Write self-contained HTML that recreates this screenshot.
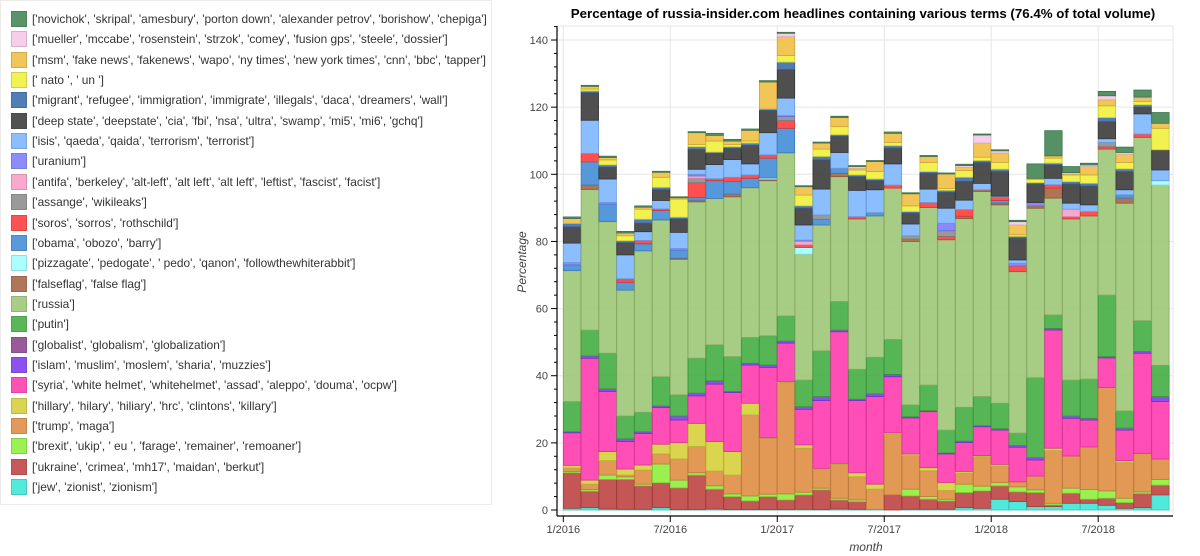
<!DOCTYPE html>
<html><head><meta charset="utf-8">
<style>
body{margin:0;width:1200px;height:556px;background:#fff;overflow:hidden;font-family:"Liberation Sans",sans-serif;}
#legend{position:absolute;left:0;top:0;width:492px;height:505px;border:1px solid #ebebeb;box-sizing:border-box;}
.le{position:absolute;left:10px;height:16px;font-size:11.9px;color:#333;white-space:nowrap;line-height:16px;}
.sw{position:absolute;left:0;top:0;width:14px;height:14px;border:1px solid;}
.lt{position:absolute;left:21px;top:0;}
svg{position:absolute;left:0;top:0;}
</style></head><body>
<div id="legend"></div>
<svg id="chart" width="1200" height="556"></svg>
<script>
const months = ["1/2016","2/2016","3/2016","4/2016","5/2016","6/2016","7/2016","8/2016","9/2016","10/2016","11/2016","12/2016","1/2017","2/2017","3/2017","4/2017","5/2017","6/2017","7/2017","8/2017","9/2017","10/2017","11/2017","12/2017","1/2018","2/2018","3/2018","4/2018","5/2018","6/2018","7/2018","8/2018","9/2018","10/2018"];
const xTickLabels = ["1/2016","7/2016","1/2017","7/2017","1/2018","7/2018"];
const yTicks = [0,20,40,60,80,100,120,140];
const seriesNames = ["jew","ukraine","brexit","trump","hillary","syria","islam","globalist","putin","russia","falseflag","pizzagate","obama","soros","assange","antifa","uranium","isis","deepstate","migrant","nato","msm","mueller","novichok"];
const labels = ["['jew', 'zionist', 'zionism']","['ukraine', 'crimea', 'mh17', 'maidan', 'berkut']","['brexit', 'ukip', ' eu ', 'farage', 'remainer', 'remoaner']","['trump', 'maga']","['hillary', 'hilary', 'hiliary', 'hrc', 'clintons', 'killary']","['syria', 'white helmet', 'whitehelmet', 'assad', 'aleppo', 'douma', 'ocpw']","['islam', 'muslim', 'moslem', 'sharia', 'muzzies']","['globalist', 'globalism', 'globalization']","['putin']","['russia']","['falseflag', 'false flag']","['pizzagate', 'pedogate', ' pedo', 'qanon', 'followthewhiterabbit']","['obama', 'obozo', 'barry']","['soros', 'sorros', 'rothschild']","['assange', 'wikileaks']","['antifa', 'berkeley', 'alt-left', 'alt left', 'alt left', 'leftist', 'fascist', 'facist']","['uranium']","['isis', 'qaeda', 'qaida', 'terrorism', 'terrorist']","['deep state', 'deepstate', 'cia', 'fbi', 'nsa', 'ultra', 'swamp', 'mi5', 'mi6', 'gchq']","['migrant', 'refugee', 'immigration', 'immigrate', 'illegals', 'daca', 'dreamers', 'wall']","[' nato ', ' un ']","['msm', 'fake news', 'fakenews', 'wapo', 'ny times', 'new york times', 'cnn', 'bbc', 'tapper']","['mueller', 'mccabe', 'rosenstein', 'strzok', 'comey', 'fusion gps', 'steele', 'dossier']","['novichok', 'skripal', 'amesbury', 'porton down', 'alexander petrov', 'borishow', 'chepiga']"];
const colors = ["#40e8d8","#c04848","#90f040","#e09048","#d8d040","#ff40b0","#8040f0","#904890","#48b048","#a0c878","#a86848","#a0ffff","#4890d8","#ff4040","#909090","#f8a0c8","#8080ff","#80b8ff","#404040","#4070b0","#f0f040","#f0c048","#f8c8e8","#488858"];
const jew =      [.5,.7,.3,.2,.2,.7,.1,.1,.3,.1,.1,.1,.1,.2,.1,.3,.2,.2,0,.2,.2,.2,.7,.5,3.2,2.5,1.0,1.0,2.0,2.0,1.4,.5,.7,4.5];
const ukraine =  [10.6,4.9,8.8,8.9,7.0,7.4,6.5,10.3,5.9,3.9,2.6,3.9,2.9,4.3,5.9,2.7,2.3,0,4.5,4.0,3.0,2.5,4.5,5.2,4.0,2.9,4.2,.5,3.0,1.2,2.1,1.7,4.2,2.9];
const brexit =   [.4,.5,1.3,.8,.5,5.6,2.3,.7,1.0,.8,1.5,.7,1.8,.8,.5,.5,.5,0,0,2.0,.8,.5,2.5,1.4,1.0,1.5,.8,.5,1.5,2.9,2.2,1.3,.5,1.7];
const trump =    [1.0,1.6,4.3,.5,4.2,3.0,6.3,7.8,4.4,5.6,24.1,16.6,33.1,13.1,5.6,10.1,6.9,6.0,18.1,10.0,7.7,2.6,3.3,8.8,4.9,1.5,4.1,15.7,9.6,12.7,30.8,10.6,11.4,6.1];
const hillary =  [.8,1.2,2.7,1.8,1.5,2.9,4.9,6.9,8.8,7.0,3.5,.2,.3,1.0,.3,.3,1.2,1.5,.4,.5,.9,2.4,.5,.3,.5,0,0,.7,0,0,0,.6,0,0];
const syria =    [9.7,36.3,17.9,8.2,9.4,10.9,6.7,8.2,17.1,17.6,11.4,21.0,11.5,10.6,20.2,39.2,21.5,26.1,16.7,10.7,16.7,8.5,8.6,8.6,10.2,10.3,4.8,35.2,11.2,8.0,8.8,9.1,29.9,17.1];
const islam =    [.3,.7,.8,.8,.5,.5,1.2,.8,1.0,.3,.5,.7,.6,.8,1.2,.5,.4,.8,.7,.4,.3,.3,.4,.3,.4,.5,.7,.5,.7,.5,.4,.6,.5,1.5];
const globalist =[0,0,0,0,0,0,0,0,0,0,0,0,0,0,0,0,0,0,0,0,0,0,0,0,0,0,0,0,0,0,0,0,0,0];
const putin =    [9.0,7.7,10.6,6.8,5.8,8.7,6.3,10.4,10.7,10.4,7.7,8.7,7.5,7.9,13.6,8.5,8.9,10.9,10.4,3.5,7.6,6.8,10.1,8.7,7.6,3.7,23.8,4.0,10.7,11.7,18.3,5.1,9.2,9.3];
const russia =   [39.0,41.9,39.2,37.5,48.1,46.7,40.4,46.6,43.6,47.6,44.6,46.2,48.6,37.5,37.5,37.2,44.8,42.1,45.1,48.7,52.9,56.7,56.2,61.1,59.1,48.1,50.5,34.8,48.0,48.6,43.5,61.9,54.6,53.7];
const falseflag =[0,1.3,0,0,0,0,.3,.5,0,.8,0,.4,0,0,0,1.0,0,0,0,.7,0,0,.7,.5,.5,0,.7,3.0,0,0,0,1.5,0,0];
const pizzagate =[0,0,0,0,0,0,0,0,0,0,0,.4,0,2.0,0,0,0,0,0,0,0,0,0,0,0,0,0,0,0,0,0,0,0,1.3];
const obama =    [1.7,6.9,5.2,2.3,2.1,2.8,2.4,.8,5.3,3.7,2.8,5.9,7.3,0,1.7,1.5,0,1.0,0,0,0,0,0,0,.8,0,0,0,0,0,0,1.0,0,0];
const soros =    [0,2.5,0,.8,1.0,.5,0,4.4,.6,1.3,1.0,1.0,2.3,.8,0,0,.7,0,.9,0,1.5,1.0,2.0,0,1.0,1.7,0,1.0,.7,1.3,.7,0,1.0,0];
const assange =  [0,0,0,0,0,0,0,1.3,0,0,0,0,1.2,0,1.3,0,0,0,0,1.0,0,1.7,0,0,0,0,0,0,0,0,1.3,0,0,0];
const antifa =   [0,0,0,0,0,0,0,.7,0,0,0,0,0,1.1,0,0,0,0,0,0,0,0,0,0,0,0,0,0,2.2,0,0,0,0,0];
const uranium =  [.7,0,.5,.3,0,0,.5,.5,0,0,0,0,.3,.3,0,0,0,0,0,0,0,2.2,0,0,0,.8,1.0,0,0,0,0,0,0,0];
const isis =     [5.8,9.9,7.0,7.1,2.6,2.5,4.8,1.5,4.2,5.3,3.3,6.6,5.2,4.5,7.7,4.7,7.8,6.8,6.3,3.5,4.0,4.5,2.8,1.9,.3,1.0,0,1.9,1.8,2.0,1.1,1.5,6.0,3.2];
const deepstate =[4.8,8.2,3.5,3.6,2.5,3.2,4.0,5.9,3.4,3.3,5.5,6.6,8.5,5.0,8.7,4.8,4.1,2.7,4.7,3.2,4.7,4.7,5.6,6.2,7.3,6.5,5.5,4.0,5.7,5.6,5.1,5.4,2.0,6.0];
const migrant =  [1.0,.5,.7,.6,1.2,.7,.5,.8,.3,.5,.7,.4,2.2,.7,1.0,.5,.5,.5,.7,.5,.5,.6,1.2,.6,.7,.5,.4,.5,.7,.8,1.2,.8,.7,0];
const nato =     [0,.6,1.5,1.5,3.0,3.0,5.4,.7,3.3,.7,.6,0,2.0,3.2,2.2,2.4,1.5,2.2,1.0,1.7,2.7,.6,2.0,1.0,2.0,.5,1.0,1.5,2.0,2.5,3.5,1.9,1.0,6.4];
const msm =      [1.5,.8,.7,.8,.6,1.5,.4,3.5,1.7,1.0,3.2,8.1,5.6,2.5,1.8,2.7,.5,3.0,2.7,3.6,1.8,4.3,1.0,4.2,2.8,2.9,.3,.7,.3,2.5,1.8,2.5,1.0,1.5];
const mueller =  [0,0,0,0,0,0,0,0,0,0,0,0,1.0,0,0,0,.5,0,0,0,0,0,.5,2.4,.7,1.0,0,0,.4,.5,1.2,.5,.3,0];
const novichok = [.5,.3,.4,.5,.4,.3,.3,.3,.6,.5,.4,.4,.3,.3,.3,.4,.3,.3,.4,.3,.3,.3,.4,.3,.3,.4,4.3,7.5,1.8,.5,1.3,1.6,2.1,3.2];
const seriesData = [jew,ukraine,brexit,trump,hillary,syria,islam,globalist,putin,russia,falseflag,pizzagate,obama,soros,assange,antifa,uranium,isis,deepstate,migrant,nato,msm,mueller,novichok];

const NS="http://www.w3.org/2000/svg";
const svg=document.getElementById('chart');
const X0=563.3, MW=17.83, Y0=510, PY=3.357;
function xs(i){return X0+i*MW;}
function ys(v){return Y0-v*PY;}
function mk(tag,attrs,parent){const e=document.createElementNS(NS,tag);for(const k in attrs)e.setAttribute(k,attrs[k]);(parent||svg).appendChild(e);return e;}
function darker(c){const n=parseInt(c.slice(1),16);const r=Math.round(((n>>16)&255)*0.85),g=Math.round(((n>>8)&255)*0.85),b=Math.round((n&255)*0.85);return `rgb(${r},${g},${b})`;}

const lg=document.getElementById('legend');
for(let k=0;k<seriesNames.length;k++){
  const idx=seriesNames.length-1-k;
  const d=document.createElement('div');d.className='le';d.style.top=(10+k*20.35)+'px';
  
  
  const s=document.createElement('div');s.className='sw';s.style.background=colors[idx];s.style.borderColor=darker(colors[idx]);s.style.opacity='0.9';
  
  
  const t=document.createElement('div');t.className='lt';t.textContent=labels[idx];
  
  
  d.appendChild(s);d.appendChild(t);lg.appendChild(d);
}

const frame=mk('rect',{x:557,y:26,width:616,height:490,fill:'none',stroke:'#e6e6e6'});


yTicks.forEach(v=>{const g=mk('line',{x1:557,x2:1173,y1:ys(v),y2:ys(v),stroke:'#e6e6e6'});

});
xTickLabels.forEach(lab=>{const i=months.indexOf(lab);const g=mk('line',{x1:xs(i),x2:xs(i),y1:26,y2:516,stroke:'#e6e6e6'});

});

for(let i=0;i<months.length;i++){
  let base=0;
  for(let s=0;s<seriesData.length;s++){
    const v=seriesData[s][i];
    if(v>0){
      const r=mk('rect',{x:xs(i),y:ys(base+v),width:MW-0.4,height:v*PY,fill:colors[s],'fill-opacity':0.92,stroke:darker(colors[s]),'stroke-width':0.8});
      
      
    }
    base+=v;
  }
}

const ya=mk('line',{x1:557,x2:557,y1:26,y2:516,stroke:'#000','stroke-width':1.2});


const xa=mk('line',{x1:557,x2:1173,y1:516,y2:516,stroke:'#000','stroke-width':1.2});


for(let v=0;v<=144;v+=4){mk('line',{x1:(v%20===0?551:554),x2:557,y1:ys(v),y2:ys(v),stroke:'#000'});}
yTicks.forEach(v=>{const t=mk('text',{x:548,y:ys(v)+4,'text-anchor':'end','font-size':11,fill:'#444'});t.textContent=v;

});
xTickLabels.forEach(lab=>{const i=months.indexOf(lab);mk('line',{x1:xs(i),x2:xs(i),y1:516,y2:522,stroke:'#000'});
const t=mk('text',{x:xs(i),y:533,'text-anchor':'middle','font-size':11,fill:'#444'});t.textContent=lab;

});

const ti=mk('text',{x:863,y:18,'text-anchor':'middle','font-size':13.3,'font-weight':'bold',fill:'#000'});
ti.textContent='Percentage of russia-insider.com headlines containing various terms (76.4% of total volume)';


const yl=mk('text',{x:0,y:0,'text-anchor':'middle','font-size':12,'font-style':'italic',fill:'#444',transform:'translate(526,262) rotate(-90)'});
yl.textContent='Percentage';


const xl=mk('text',{x:866,y:551,'text-anchor':'middle','font-size':12,'font-style':'italic',fill:'#444'});
xl.textContent='month';


</script>
</body></html>
